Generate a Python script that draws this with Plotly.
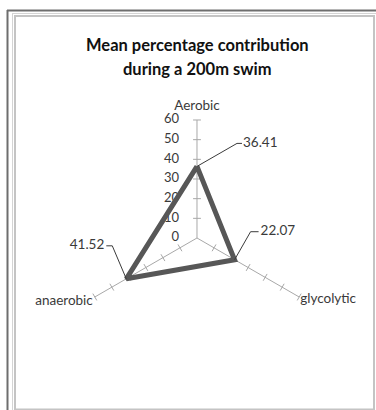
import math
import plotly.graph_objects as go

# Energy-system contributions for a 200 m swim (percent)
categories = ["Aerobic", "glycolytic", "anaerobic"]
values = [36.41, 22.07, 41.52]
value_labels = ["36.41", "22.07", "41.52"]
radial_ticks = [0, 10, 20, 30, 40, 50, 60]

R_MAX = 60          # end of the drawn scale
R_VIEW = 80         # polar range, leaves room for labels beyond the spokes
FONT = "Lato, Carlito, Calibri, sans-serif"
TEXT_COLOR = "#3a3a3a"
SPOKE_COLOR = "#a8a8a8"

# spokes run clockwise starting at the top
angles = [90 - 120 * i for i in range(len(categories))]

# polar area placement (paper px)
W, H = 376, 410
CX, CY = 197, 238
PX_PER_UNIT = 118 / R_MAX
RAD = R_VIEW * PX_PER_UNIT


def to_polar(x, y):
    return math.hypot(x, y), math.degrees(math.atan2(y, x))


def offset_point(r, theta, dx_px, dy_px):
    x = r * math.cos(math.radians(theta)) + dx_px / PX_PER_UNIT
    y = r * math.sin(math.radians(theta)) + dy_px / PX_PER_UNIT
    return to_polar(x, y)


def text_trace(r, theta, label, pos, size):
    return go.Scatterpolar(r=[r], theta=[theta], mode="text", text=[label],
                           textposition=pos, hoverinfo="skip", cliponaxis=False,
                           textfont=dict(family=FONT, size=size, color=TEXT_COLOR))


fig = go.Figure()

# spokes plus cross-shaped tick marks along each one
half = 2.0
sr, st = [], []
for th in angles:
    sr += [0, R_MAX, None]
    st += [th, th, None]
    for t in radial_ticks[1:]:
        rr = math.hypot(t, half)
        d = math.degrees(math.atan2(half, t))
        sr += [rr, rr, None]
        st += [th - d, th + d, None]
fig.add_trace(go.Scatterpolar(r=sr, theta=st, mode="lines",
                              line=dict(color=SPOKE_COLOR, width=1),
                              hoverinfo="skip", connectgaps=False))

# radial scale labels, left of the top spoke
for t in radial_ticks:
    p = offset_point(t, 90, -18, 0)
    fig.add_trace(text_trace(p[0], p[1], str(t), "middle left", 13))

# category names just beyond the spoke ends
cat_offsets = [((0, 13), "middle center"), ((1, -3), "middle right"), ((-2, -5), "middle left")]
for name, th, (off, pos) in zip(categories, angles, cat_offsets):
    p = offset_point(R_MAX, th, *off)
    fig.add_trace(text_trace(p[0], p[1], name, pos, 13.5))

# the data polygon
fig.add_trace(go.Scatterpolar(
    r=values + values[:1], theta=angles + angles[:1], mode="lines",
    line=dict(color="#575757", width=5, shape="linear"),
    name="Mean contribution"))

# leader lines and value labels (offsets in px: elbow, line end, text anchor)
leader = [
    ((40, 23), (45, 23), (46, 23), "middle right"),
    ((16, 28), (24, 28), (26, 28), "middle right"),
    ((-14, 33), (-20, 33), (-22, 33), "middle left"),
]
for v, th, lab, (e1, e2, et, pos) in zip(values, angles, value_labels, leader):
    p1 = offset_point(v, th, *e1)
    p2 = offset_point(v, th, *e2)
    pt = offset_point(v, th, *et)
    fig.add_trace(go.Scatterpolar(r=[v, p1[0], p2[0]], theta=[th, p1[1], p2[1]],
                                  mode="lines", line=dict(color="#3a3a3a", width=1),
                                  hoverinfo="skip"))
    fig.add_trace(text_trace(pt[0], pt[1], lab, pos, 13.5))

title_lines = ["Mean percentage contribution", "during a 200m swim"]
title_y = [45, 69]

fig.update_layout(
    width=W, height=H,
    margin=dict(l=0, r=0, t=0, b=0),
    paper_bgcolor="white",
    showlegend=False,
    polar=dict(
        domain=dict(x=[(CX - RAD) / W, (CX + RAD) / W],
                    y=[(H - CY - RAD) / H, (H - CY + RAD) / H]),
        bgcolor="rgba(0,0,0,0)",
        angularaxis=dict(
            thetaunit="degrees", rotation=0, direction="counterclockwise",
            showticklabels=False, showline=False, ticks="", showgrid=False,
        ),
        radialaxis=dict(
            range=[0, R_VIEW], showgrid=False, showline=False, ticks="",
            showticklabels=False,
        ),
    ),
    annotations=[dict(
        text="<b>%s</b>" % line, x=CX / W, y=1 - yy / H, xref="paper", yref="paper",
        xanchor="center", yanchor="middle", showarrow=False,
        font=dict(family=FONT, size=16.5, color="#111111"),
    ) for line, yy in zip(title_lines, title_y)],
    shapes=[
        dict(type="line", xref="paper", yref="paper", x0=7.5 / W, x1=7.5 / W,
             y0=0, y1=1 - 10 / H, line=dict(color="#6e6e6e", width=2)),
        dict(type="line", xref="paper", yref="paper", x0=7 / W, x1=1,
             y0=1 - 10.5 / H, y1=1 - 10.5 / H, line=dict(color="#6e6e6e", width=2)),
        dict(type="line", xref="paper", yref="paper", x0=12.5 / W, x1=12.5 / W,
             y0=0, y1=1 - 13 / H, line=dict(color="#d4d4d4", width=1)),
        dict(type="line", xref="paper", yref="paper", x0=12 / W, x1=1,
             y0=1 - 13.5 / H, y1=1 - 13.5 / H, line=dict(color="#d4d4d4", width=1)),
        dict(type="rect", xref="paper", yref="paper", x0=15 / W, x1=374 / W,
             y0=1 - 409.5 / H, y1=1 - 16 / H, line=dict(color="#c4c4c4", width=2)),
    ],
)

fig.write_html("out.html")
